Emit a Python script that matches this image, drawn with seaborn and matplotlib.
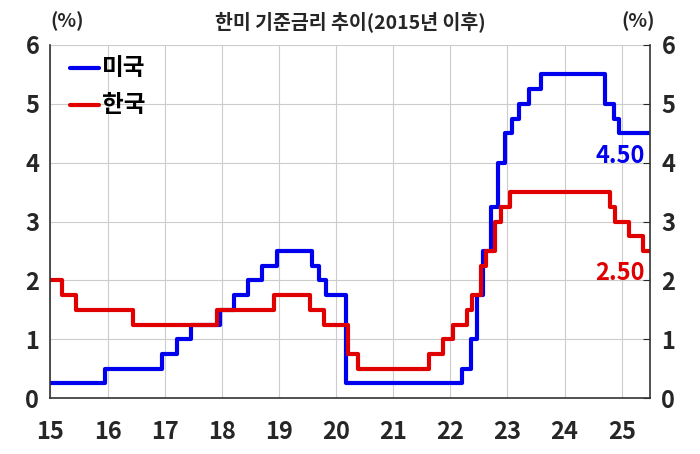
import matplotlib
matplotlib.use('Agg')
import matplotlib.pyplot as plt
import pandas as pd
import seaborn as sns

# 기준금리 변경 시점 (연도 2자리 + 월/12) 과 금리
us_dates = [15.0, 15.96, 16.96, 17.21, 17.46, 17.96, 18.21, 18.46, 18.71, 18.96,
            19.58, 19.71, 19.83, 20.17, 22.21, 22.37, 22.46, 22.58, 22.71, 22.84,
            22.96, 23.08, 23.21, 23.37, 23.58, 24.71, 24.87, 24.96, 25.5]
us_rates = [0.25, 0.5, 0.75, 1.0, 1.25, 1.5, 1.75, 2.0, 2.25, 2.5,
            2.25, 2.0, 1.75, 0.25, 0.5, 1.0, 1.75, 2.5, 3.25, 4.0,
            4.5, 4.75, 5.0, 5.25, 5.5, 5.0, 4.75, 4.5, 4.5]
kr_dates = [15.0, 15.2, 15.45, 16.45, 17.92, 18.92, 19.54, 19.79, 20.21, 20.38,
            21.63, 21.88, 22.04, 22.29, 22.38, 22.54, 22.63, 22.79, 22.88, 23.04,
            24.79, 24.88, 25.13, 25.38, 25.5]
kr_rates = [2.0, 1.75, 1.5, 1.25, 1.5, 1.75, 1.5, 1.25, 0.75, 0.5,
            0.75, 1.0, 1.25, 1.5, 1.75, 2.25, 2.5, 3.0, 3.25, 3.5,
            3.25, 3.0, 2.75, 2.5, 2.5]
year_ticks = list(range(15, 26))

df = pd.concat([
    pd.DataFrame({'date': us_dates, 'rate': us_rates, 'country': '미국'}),
    pd.DataFrame({'date': kr_dates, 'rate': kr_rates, 'country': '한국'}),
])

sns.set_style('white')
plt.rcParams['font.family'] = ['Noto Sans CJK KR', 'DejaVu Sans']
plt.rcParams['font.weight'] = 'bold'

fig = plt.figure(figsize=(7, 4.54), dpi=100)
ax = fig.add_axes([0.072, 0.123, 0.857, 0.778])
palette = {'미국': '#0000ee', '한국': '#e00000'}
sns.lineplot(data=df, x='date', y='rate', hue='country', palette=palette,
             drawstyle='steps-post', linewidth=3, ax=ax, legend=False)

ax.set_xlim(15, 25.5)
ax.set_ylim(0, 6)
ax.set_xticks(year_ticks)
ax.set_yticks(range(7))
ax.grid(True, color='#cccccc', linewidth=0.8)
ax.set_xlabel('')
ax.set_ylabel('')
ax.tick_params(axis='both', direction='in', labelsize=17, length=5, pad=8)
ax.tick_params(axis='x', pad=16)
ax.tick_params(axis='y', labelright=True, right=True)
for s in ['left', 'right', 'bottom']:
    ax.spines[s].set_color('#333333')
    ax.spines[s].set_linewidth(1.2)
ax.spines['top'].set_visible(False)

for t in ax.get_xticklabels() + ax.get_yticklabels():
    t.set_fontweight('bold')

fig.text(0.5, 0.975, '한미 기준금리 추이(2015년 이후)', ha='center', va='top',
         fontsize=14, fontweight='bold')
fig.text(0.072, 0.975, '(%)', ha='left', va='top', fontsize=14, fontweight='bold')
fig.text(0.935, 0.975, '(%)', ha='right', va='top', fontsize=14, fontweight='bold')

for i, (name, col) in enumerate(palette.items()):
    y = 5.6 - i * 0.62
    ax.plot([15.35, 15.85], [y, y], color=col, linewidth=3)
    ax.text(15.9, y, name, va='center', fontsize=17, fontweight='bold', color='black')

ax.text(25.4, us_rates[-1] - 0.38, f'{us_rates[-1]:.2f}', ha='right', va='center',
        fontsize=17, fontweight='bold', color=palette['미국'])
ax.text(25.4, kr_rates[-1] - 0.38, f'{kr_rates[-1]:.2f}', ha='right', va='center',
        fontsize=17, fontweight='bold', color=palette['한국'])

fig.savefig('out.png', dpi=100)
